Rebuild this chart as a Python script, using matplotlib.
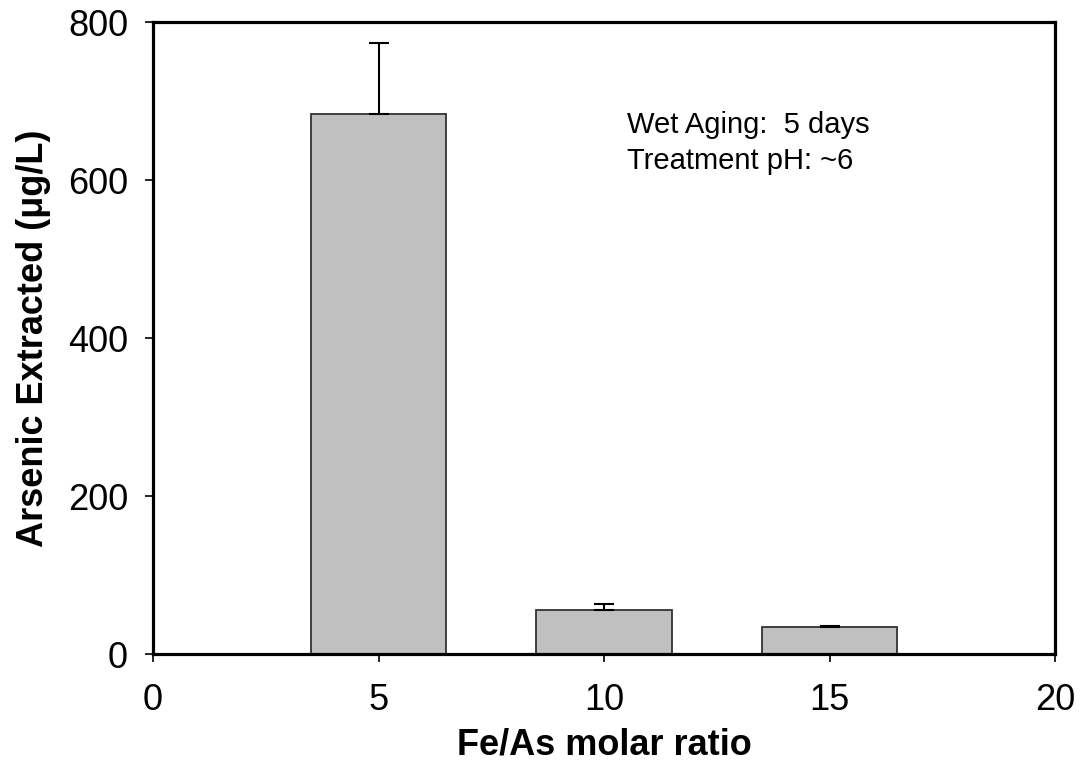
import numpy as np
import matplotlib.pyplot as plt

plt.rcParams['font.family'] = ['Liberation Sans', 'DejaVu Sans']

ratios = [5, 10, 15]
arsenic = [683, 56, 34]
arsenic_err = [91, 7.5, 1.5]

x_ticks = [0, 5, 10, 15, 20]
y_ticks = [0, 200, 400, 600, 800]

fig = plt.figure(figsize=(10.81, 7.65), dpi=100)
ax = fig.add_axes([153 / 1081, 1 - 654 / 765, 902 / 1081, 632 / 765])

ax.bar(ratios, arsenic, width=3, color='#c0c0c0', edgecolor='#333333', linewidth=1.3)
ax.errorbar(ratios, arsenic, yerr=[np.zeros(len(arsenic_err)), arsenic_err],
            fmt='none', ecolor='black', elinewidth=1.5, capsize=7, capthick=1.5)

ax.set_xlim(0, 20)
ax.set_ylim(0, 800)
ax.set_xticks(x_ticks)
ax.set_yticks(y_ticks)
ax.tick_params(direction='out', length=6, width=1.2, labelsize=26)
ax.tick_params(axis='x', pad=15)
ax.tick_params(axis='y', pad=12)
for s in ax.spines.values():
    s.set_linewidth(2.3)

ax.set_xlabel('Fe/As molar ratio', fontsize=26, fontweight='bold', labelpad=7)
ax.set_ylabel('Arsenic Extracted (\u03bcg/L)', fontsize=26, fontweight='bold', labelpad=12)

ax.text(10.5, 687, 'Wet Aging:  5 days\nTreatment pH: ~6', fontsize=21,
        va='top', ha='left', linespacing=1.35)

fig.savefig('out.png', dpi=100)
